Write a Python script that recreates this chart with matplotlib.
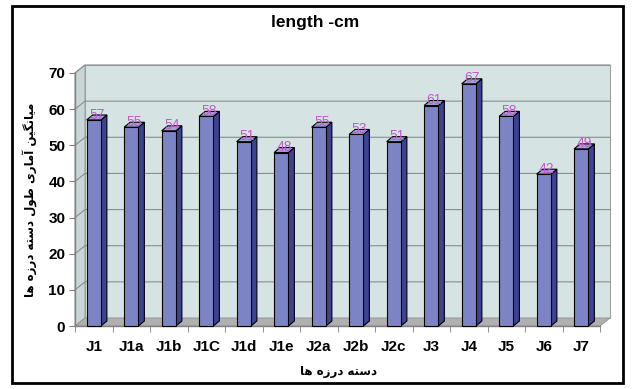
import matplotlib
matplotlib.use("Agg")
import matplotlib.pyplot as plt
from matplotlib.patches import Polygon, Rectangle

# data
categories = ["J1", "J1a", "J1b", "J1C", "J1d", "J1e", "J2a", "J2b", "J2c",
              "J3", "J4", "J5", "J6", "J7"]
values = [57, 55, 54, 58, 51, 48, 55, 53, 51, 61, 67, 58, 42, 49]
yticks = [0, 10, 20, 30, 40, 50, 60, 70]
title = "length -cm"
xlabel_fa = "دسته درزه ها"
ylabel_fa = "میانگین آماری طول دسته درزه ها"

# simple persian shaping (presentation forms), then reversed for LTR drawing
FORMS = {
    "ا": ("\uFE8D", "\uFE8E"), "آ": ("\uFE81", "\uFE82"),
    "د": ("\uFEA9", "\uFEAA"), "ر": ("\uFEAD", "\uFEAE"),
    "ز": ("\uFEAF", "\uFEB0"), "و": ("\uFEED", "\uFEEE"),
    "م": ("\uFEE1", "\uFEE2", "\uFEE3", "\uFEE4"),
    "ن": ("\uFEE5", "\uFEE6", "\uFEE7", "\uFEE8"),
    "ت": ("\uFE95", "\uFE96", "\uFE97", "\uFE98"),
    "س": ("\uFEB1", "\uFEB2", "\uFEB3", "\uFEB4"),
    "ط": ("\uFEC1", "\uFEC2", "\uFEC3", "\uFEC4"),
    "ل": ("\uFEDD", "\uFEDE", "\uFEDF", "\uFEE0"),
    "ه": ("\uFEE9", "\uFEEA", "\uFEEB", "\uFEEC"),
    "ی": ("\uFBFC", "\uFBFD", "\uFBFE", "\uFBFF"),
    "گ": ("\uFB92", "\uFB93", "\uFB94", "\uFB95"),
}


def shape(text):
    out = []
    for i, c in enumerate(text):
        if c not in FORMS:
            out.append(c)
            continue
        prev = text[i - 1] if i > 0 else " "
        nxt = text[i + 1] if i + 1 < len(text) else " "
        join_prev = prev in FORMS and len(FORMS[prev]) == 4
        join_next = len(FORMS[c]) == 4 and nxt in FORMS
        f = FORMS[c]
        if join_prev and join_next:
            out.append(f[3])
        elif join_prev:
            out.append(f[1])
        elif join_next:
            out.append(f[2])
        else:
            out.append(f[0])
    return "".join(out)[::-1]


plt.rcParams["font.family"] = ["Liberation Sans", "DejaVu Sans"]

W, H = 632, 389
fig = plt.figure(figsize=(W / 100, H / 100), dpi=100)
fig.patch.set_facecolor("white")

# front plane of the plot area, in pixels
left, right, bottom, top = 75, 600, 63, 316
ax = fig.add_axes([left / W, bottom / H, (right - left) / W, (top - bottom) / H])
n = len(categories)
ax.set_xlim(-0.5, n - 0.5)
ax.set_ylim(0, 70)
ax.set_facecolor("none")

px_x = (right - left) / n
px_y = (top - bottom) / 70
dxw, dyw = 10 / px_x, 8 / px_y   # wall depth
dxb, dyb = 6 / px_x, 5 / px_y    # bar depth
x0, x1 = -0.5, n - 0.5

wall_c = "#d6e3e3"
grid_c = "#8c8c8c"
# back wall and side wall
ax.add_patch(Polygon([(x0 + dxw, dyw), (x1 + dxw, dyw), (x1 + dxw, 70 + dyw),
                      (x0 + dxw, 70 + dyw)], closed=True, fc=wall_c,
                     ec="#a0a0a0", lw=0.8, clip_on=False, zorder=0))
ax.add_patch(Polygon([(x0, 0), (x0 + dxw, dyw), (x0 + dxw, 70 + dyw), (x0, 70)],
                     closed=True, fc="#c9d6d6", ec="#a0a0a0", lw=0.8,
                     clip_on=False, zorder=0))
for v in yticks[1:]:
    ax.plot([x0, x0 + dxw, x1 + dxw], [v, v + dyw, v + dyw], color=grid_c,
            lw=0.8, clip_on=False, zorder=1)
# floor
ax.add_patch(Polygon([(x0, 0), (x1, 0), (x1 + dxw, dyw), (x0 + dxw, dyw)],
                     closed=True, fc="#b0b0b0", ec="#909090", lw=0.6,
                     clip_on=False, zorder=1))

bw = 0.38
front_c, side_c, top_c = "#7d84c6", "#3c4390", "#9ca2da"
for i, v in enumerate(values):
    a, b = i - bw / 2, i + bw / 2
    ax.add_patch(Polygon([(b, 0), (b + dxb, dyb), (b + dxb, v + dyb), (b, v)],
                         closed=True, fc=side_c, ec="black", lw=0.8,
                         clip_on=False, zorder=3))
    ax.add_patch(Polygon([(a, v), (b, v), (b + dxb, v + dyb), (a + dxb, v + dyb)],
                         closed=True, fc=top_c, ec="black", lw=0.8,
                         clip_on=False, zorder=3))
    ax.add_patch(Rectangle((a, 0), bw, v, fc=front_c, ec="black", lw=0.8,
                           clip_on=False, zorder=4))
    ax.text(i + dxb / 2, v + 1.5, str(v), ha="center", va="center",
            fontsize=10, color="#c05cc8", zorder=5, clip_on=False)

for s in ["top", "right"]:
    ax.spines[s].set_visible(False)
for s in ["left", "bottom"]:
    ax.spines[s].set_color("#808080")
    ax.spines[s].set_linewidth(1)
ax.set_yticks(yticks)
ax.set_yticklabels([str(v) for v in yticks], fontsize=11, fontweight="bold")
ax.set_xticks(range(n))
ax.set_xticklabels(categories, fontsize=11, fontweight="bold")
ax.set_xticks([i + 0.5 for i in range(-1, n)], minor=True)
ax.tick_params(axis="x", which="major", length=0, pad=10)
ax.tick_params(axis="x", which="minor", length=4, color="#808080")
ax.tick_params(axis="y", length=4, color="#808080", pad=3)

fig.text(315 / W, 1 - 22 / H, title, ha="center", va="center",
         fontsize=12.5, fontweight="bold")
fig.text(338 / W, 1 - 372 / H, shape(xlabel_fa), ha="center", va="center",
         fontsize=8.5, fontweight="bold", family="DejaVu Sans")
fig.text(30 / W, 1 - 200 / H, shape(ylabel_fa), ha="center", va="center",
         fontsize=8.5, fontweight="bold", rotation=90, family="DejaVu Sans")

# outer frame
fig.add_artist(Rectangle((12 / W, 6 / H), (623 - 12) / W, (383 - 6) / H,
                         transform=fig.transFigure, fill=False, ec="black",
                         lw=2))

fig.savefig("out.png", dpi=100)
